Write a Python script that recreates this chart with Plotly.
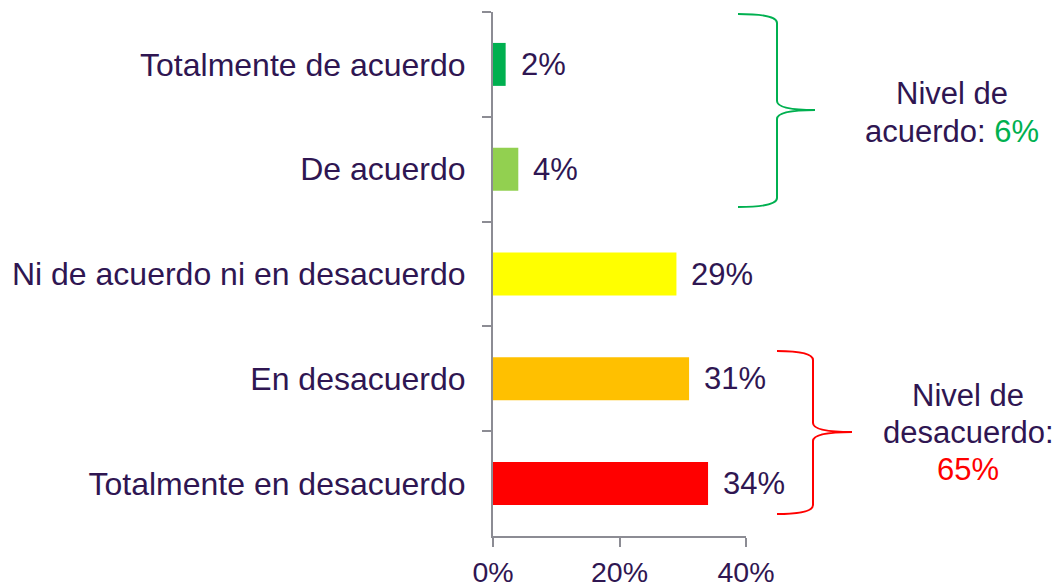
import plotly.graph_objects as go

# ---- data ----
categories = ["Totalmente de acuerdo", "De acuerdo", "Ni de acuerdo ni en desacuerdo",
              "En desacuerdo", "Totalmente en desacuerdo"]
values = [2, 4, 29, 31, 34]
bar_colors = ["#00B050", "#92D050", "#FFFF00", "#FFC000", "#FF0000"]
x_ticks = [0, 20, 40]
x_tick_labels = ["0%", "20%", "40%"]
agree_idx = [0, 1]
disagree_idx = [3, 4]

# ---- style ----
TEXT = "#2F1652"
AXIS = "#8C8C94"
GREEN = "#00B050"
RED = "#FF0000"
FONT = "Liberation Sans, Arial, sans-serif"
W, H = 1059, 583
L, R, T, B = 493, 313, 12, 47
PW, PH = W - L - R, H - T - B


def px(x):
    return (x - L) / PW


def py(y):
    return (H - B - y) / PH


fig = go.Figure(go.Bar(
    x=values, y=categories, orientation="h",
    marker=dict(color=bar_colors, line=dict(width=0)),
    hoverinfo="skip",
))

annotations = []
for c, v in zip(categories, values):
    annotations.append(dict(
        x=v, y=c, xref="x", yref="y", text=f"{v}%", showarrow=False,
        xanchor="left", yanchor="middle", xshift=13,
        font=dict(family=FONT, size=31, color=TEXT),
    ))

agree_total = sum(values[i] for i in agree_idx)
disagree_total = sum(values[i] for i in disagree_idx)


def label(text, x, y):
    annotations.append(dict(
        x=px(x), y=py(y), xref="paper", yref="paper", text=text, showarrow=False,
        xanchor="center", yanchor="middle",
        font=dict(family=FONT, size=31, color=TEXT),
    ))


label("Nivel de", 952, 93)
label(f"acuerdo: <span style='color:{GREEN}'>{agree_total}%</span>", 952, 131)
label("Nivel de", 968, 395)
label("desacuerdo:", 968, 432)
label(f"<span style='color:{RED}'>{disagree_total}%</span>", 968, 469)


def brace(x0, xm, xt, yt, ym, yb, color):
    r = 9
    pts = (f"M {px(x0)},{py(yt)} "
           f"Q {px(xm)},{py(yt)} {px(xm)},{py(yt + r)} "
           f"L {px(xm)},{py(ym - r)} "
           f"Q {px(xm)},{py(ym)} {px(xt)},{py(ym)} "
           f"Q {px(xm)},{py(ym)} {px(xm)},{py(ym + r)} "
           f"L {px(xm)},{py(yb - r)} "
           f"Q {px(xm)},{py(yb)} {px(x0)},{py(yb)}")
    return dict(type="path", xref="paper", yref="paper", path=pts,
                line=dict(color=color, width=2), layer="above")


shapes = [
    brace(738, 777, 815, 14, 110, 207, GREEN),
    brace(777, 813, 852, 351, 432, 514, RED),
]

fig.update_layout(
    width=W, height=H,
    margin=dict(l=L, r=R, t=T, b=B, pad=0, autoexpand=False),
    paper_bgcolor="white", plot_bgcolor="white",
    showlegend=False, bargap=0.59,
    font=dict(family=FONT, color=TEXT),
    annotations=annotations, shapes=shapes,
    xaxis=dict(
        range=[0, 40], tickvals=x_ticks, ticktext=x_tick_labels,
        showgrid=False, zeroline=False,
        showline=True, linecolor=AXIS, linewidth=2,
        ticks="outside", ticklen=9, tickwidth=2, tickcolor=AXIS,
        tickfont=dict(family=FONT, size=28.5, color=TEXT),
        ticklabelstandoff=1, automargin=False,
        fixedrange=True,
    ),
    yaxis=dict(
        type="category", categoryorder="array", categoryarray=categories,
        autorange="reversed", tickson="boundaries",
        showgrid=False, zeroline=False,
        showline=True, linecolor=AXIS, linewidth=2,
        ticks="outside", ticklen=9, tickwidth=2, tickcolor=AXIS,
        tickfont=dict(family=FONT, size=32, color=TEXT),
        ticklabelstandoff=19, automargin=False,
        fixedrange=True,
    ),
)

fig.write_html("out.html", config={"displayModeBar": False},
               post_script="document.body.style.margin='0px';document.body.style.overflow='hidden';")
